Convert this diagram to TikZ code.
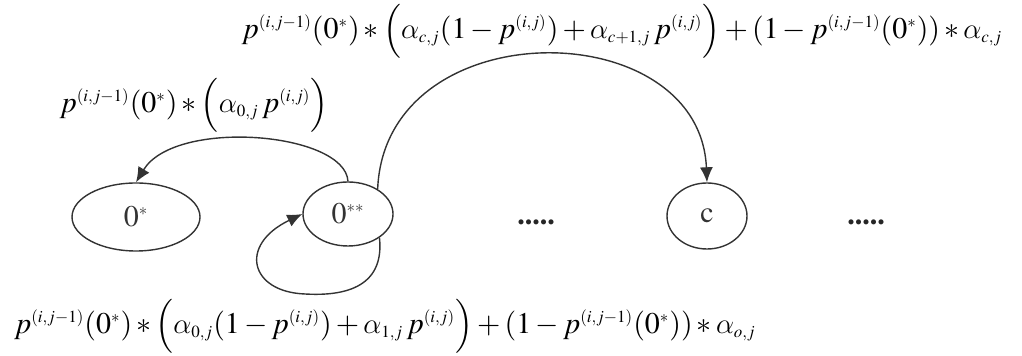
\documentclass[tikz,border=0pt]{standalone}
\usepackage{mathptmx}
\DeclareSymbolFont{cmletters}{OML}{cmm}{m}{it}
\DeclareMathSymbol{\alpha}{\mathord}{cmletters}{"0B}
\DeclareMathSizes{15}{15}{8.5}{7}
\usetikzlibrary{shapes.geometric,arrows.meta}

\begin{document}
\begin{tikzpicture}[
	x=0.5pt, y=-0.5pt,
	state/.style={ ellipse, draw=black!80, line width=0.7pt, inner sep=0pt, text=black!80, font=\fontsize{15}{18}\selectfont },
	trans/.style={ draw=black!80, line width=0.7pt, -{Latex[length=7.5pt,width=6.5pt]} },
	prob/.style={ inner sep=0pt, font=\fontsize{15}{18}\selectfont },
	more/.style={ inner sep=0pt, font=\fontsize{15}{18}\usefont{OT1}{ptm}{b}{n}, text=black!85 }
]
\useasboundingbox (0,0) rectangle (1022,356);

\node[state, minimum width=64pt, minimum height=34pt] at (136,217) (s0) {$0^{*}$};
\node[state, minimum width=45pt, minimum height=32pt] at (348,214) (s1) {$0^{**}$};
\node[state, minimum width=40pt, minimum height=33pt] at (707,216) (sc) {$\mathrm{c}$};
\node[more] at (536,222) (d1) {.....};
\node[more] at (866,222) (d2) {.....};

\node[prob] at (622,31) (ptop) {$p^{(i,j-1)}(0^{*})*\Bigl(\alpha_{c,j}(1-p^{(i,j)})+\alpha_{c+1,j}\,p^{(i,j)}\Bigr)+(1-p^{(i,j-1)}(0^{*}))*\alpha_{c,j}$};
\node[prob] at (194,105) (pmid) {$p^{(i,j-1)}(0^{*})*\Bigl(\alpha_{0,j}\,p^{(i,j)}\Bigr)$};
\node[prob] at (385,326) (pbot) {$p^{(i,j-1)}(0^{*})*\Bigl(\alpha_{0,j}(1-p^{(i,j)})+\alpha_{1,j}\,p^{(i,j)}\Bigr)+(1-p^{(i,j-1)}(0^{*}))*\alpha_{o,j}$};

\coordinate (loopbot) at (305,294);

\draw[trans] (s1.north) .. controls (345,132) and (175,118) .. (s0.north);
\draw[trans] (s1.40) .. controls (385,10) and (700,12) .. (sc.north);
\draw[trans] (s1.-37) .. controls (385,290) and (340,296) .. (loopbot) .. controls (250,292) and (238,245) .. (s1.west);

\end{tikzpicture}
\end{document}
